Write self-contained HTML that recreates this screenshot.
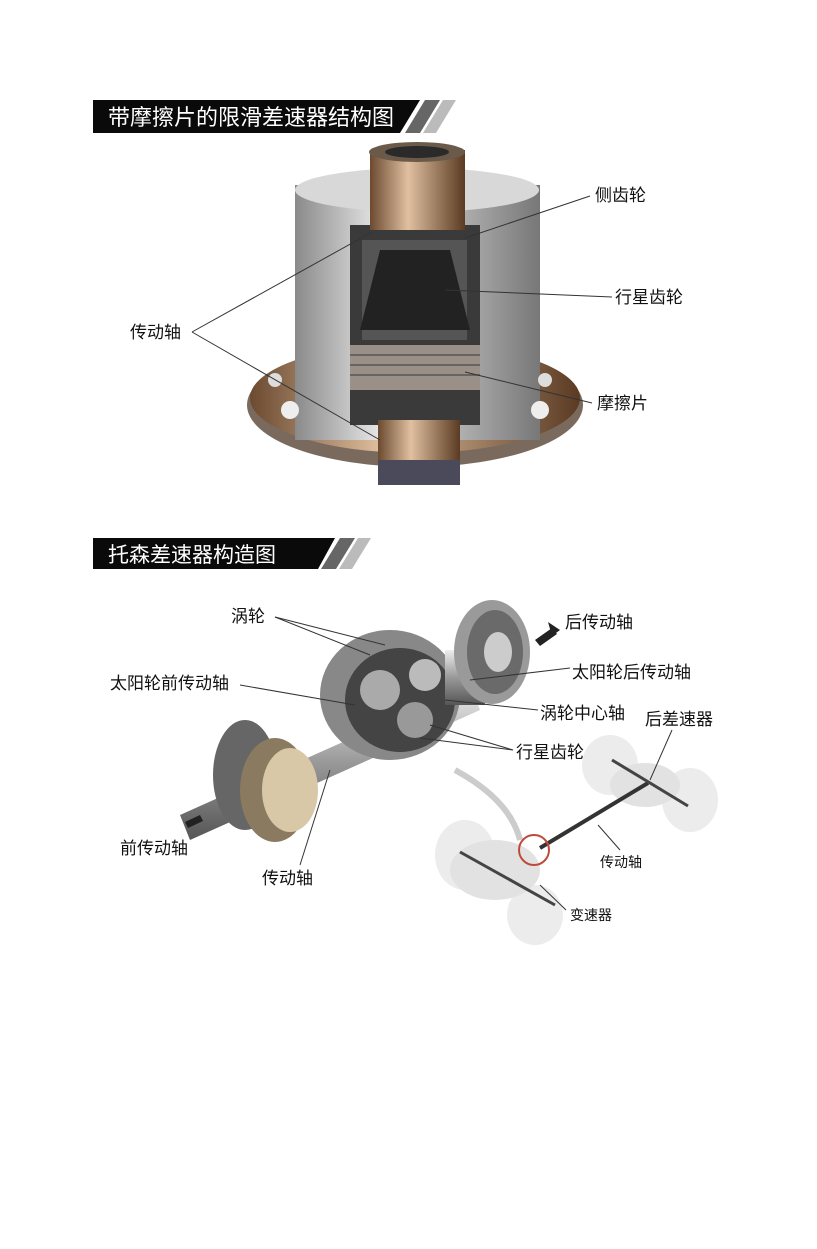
<!DOCTYPE html>
<html><head><meta charset="utf-8"><style>
html,body{margin:0;padding:0;background:#fff}
body{width:817px;height:1249px;overflow:hidden;position:relative}
svg{position:absolute;left:0;top:0}
text{font-family:"Liberation Sans","Noto Sans CJK SC",sans-serif}
</style></head><body>
<svg width="817" height="1249" viewBox="0 0 817 1249">
<defs>
<linearGradient id="st" x1="0" x2="1"><stop offset="0" stop-color="#222"/><stop offset="1" stop-color="#ddd"/></linearGradient>
<linearGradient id="br" x1="0" x2="1"><stop offset="0" stop-color="#6b4a30"/><stop offset=".4" stop-color="#e0c0a0"/><stop offset="1" stop-color="#5a3a22"/></linearGradient>
<linearGradient id="gr" x1="0" x2="1"><stop offset="0" stop-color="#8a8a8a"/><stop offset=".35" stop-color="#e8e8e8"/><stop offset="1" stop-color="#777"/></linearGradient>
<linearGradient id="sh" x1="0" y1="0" x2="0" y2="1"><stop offset="0" stop-color="#eee"/><stop offset=".5" stop-color="#999"/><stop offset="1" stop-color="#555"/></linearGradient>
</defs>
<!-- header 1 -->
<polygon points="93,100 420,100 400,133 93,133" fill="#0a0a0a"/>
<polygon points="425,100 440,100 420,133 405,133" fill="#666"/>
<polygon points="443,100 456,100 436,133 423,133" fill="#bbb"/>
<text x="108" y="125" font-size="22" fill="#fff">带摩擦片的限滑差速器结构图</text>
<!-- diff 1 -->
<ellipse cx="415" cy="405" rx="168" ry="62" fill="#7a6a5e"/>
<ellipse cx="415" cy="398" rx="165" ry="55" fill="url(#br)"/>
<rect x="295" y="185" width="245" height="255" fill="url(#gr)"/>
<ellipse cx="417" cy="190" rx="122" ry="22" fill="#d8d8d8"/>
<rect x="350" y="225" width="130" height="200" fill="#3a3a3a"/>
<rect x="362" y="240" width="105" height="100" fill="#555"/>
<polygon points="380,250 450,250 470,330 360,330" fill="#222"/>
<rect x="350" y="345" width="130" height="45" fill="#9a9088"/>
<g stroke="#555" stroke-width="1.5"><line x1="350" y1="355" x2="480" y2="355"/><line x1="350" y1="365" x2="480" y2="365"/><line x1="350" y1="375" x2="480" y2="375"/></g>
<rect x="370" y="150" width="95" height="80" fill="url(#br)"/>
<ellipse cx="417" cy="152" rx="48" ry="10" fill="#6b5a4a"/>
<ellipse cx="417" cy="152" rx="32" ry="6" fill="#2a2a2a"/>
<rect x="378" y="420" width="82" height="62" fill="url(#br)"/>
<rect x="378" y="460" width="82" height="25" fill="#4a4a5a"/>
<circle cx="540" cy="410" r="9" fill="#eee"/><circle cx="290" cy="410" r="9" fill="#eee"/><circle cx="545" cy="380" r="7" fill="#ddd"/><circle cx="275" cy="380" r="7" fill="#ddd"/>
<g stroke="#333" stroke-width="1" fill="none">
<line x1="590" y1="196" x2="465" y2="238"/>
<line x1="612" y1="297" x2="445" y2="290"/>
<line x1="592" y1="403" x2="465" y2="372"/>
<line x1="192" y1="332" x2="372" y2="232"/>
<line x1="192" y1="332" x2="380" y2="440"/>
</g>
<g font-size="17" fill="#111">
<text x="595" y="201">侧齿轮</text>
<text x="615" y="303">行星齿轮</text>
<text x="130" y="338">传动轴</text>
<text x="597" y="409">摩擦片</text>
</g>
<!-- header 2 -->
<polygon points="93,538 335,538 318,569 93,569" fill="#0a0a0a"/>
<polygon points="340,538 355,538 336,569 321,569" fill="#666"/>
<polygon points="358,538 371,538 352,569 339,569" fill="#bbb"/>
<text x="108" y="562" font-size="21" fill="#fff">托森差速器构造图</text>
<!-- car chassis faint -->
<g opacity=".55">
<ellipse cx="465" cy="855" rx="30" ry="35" fill="#ddd"/>
<ellipse cx="535" cy="915" rx="28" ry="30" fill="#ddd"/>
<ellipse cx="610" cy="765" rx="28" ry="30" fill="#ddd"/>
<ellipse cx="690" cy="800" rx="28" ry="32" fill="#ddd"/>
<ellipse cx="495" cy="870" rx="45" ry="30" fill="#ccc"/>
<ellipse cx="645" cy="785" rx="35" ry="22" fill="#ccc"/>
</g>
<path d="M455 770 Q510 800 520 840" stroke="#ccc" stroke-width="6" fill="none"/>
<line x1="540" y1="848" x2="648" y2="783" stroke="#333" stroke-width="4"/>
<line x1="460" y1="852" x2="555" y2="905" stroke="#444" stroke-width="3"/>
<line x1="612" y1="760" x2="688" y2="806" stroke="#444" stroke-width="3"/>
<circle cx="534" cy="850" r="15" fill="none" stroke="#c04a3a" stroke-width="2"/>
<!-- torsen -->
<polygon points="180,815 470,685 480,710 190,840" fill="url(#sh)"/>
<ellipse cx="245" cy="775" rx="32" ry="55" fill="#666"/>
<ellipse cx="275" cy="790" rx="35" ry="52" fill="#8a7a60"/>
<ellipse cx="290" cy="790" rx="28" ry="42" fill="#d8c8a8"/>
<ellipse cx="390" cy="695" rx="70" ry="65" fill="#888"/>
<ellipse cx="400" cy="700" rx="55" ry="52" fill="#444"/>
<circle cx="380" cy="690" r="20" fill="#aaa"/><circle cx="415" cy="720" r="18" fill="#999"/><circle cx="425" cy="675" r="16" fill="#bbb"/>
<rect x="445" y="650" width="40" height="55" fill="url(#sh)"/>
<ellipse cx="492" cy="652" rx="38" ry="52" fill="#9a9a9a"/>
<ellipse cx="495" cy="652" rx="28" ry="42" fill="#6a6a6a"/>
<ellipse cx="498" cy="652" rx="14" ry="20" fill="#ccc"/>
<polygon points="535,640 552,628 557,634 540,646" fill="#222"/>
<polygon points="548,622 560,630 552,636" fill="#222"/>
<polygon points="200,815 185,822 188,828 203,821" fill="#222"/>
<g stroke="#333" stroke-width="1" fill="none">
<line x1="275" y1="617" x2="370" y2="655"/><line x1="275" y1="617" x2="385" y2="645"/>
<line x1="240" y1="685" x2="355" y2="705"/>
<line x1="570" y1="668" x2="470" y2="680"/>
<line x1="538" y1="710" x2="445" y2="700"/>
<line x1="513" y1="750" x2="420" y2="738"/><line x1="513" y1="750" x2="430" y2="725"/>
<line x1="300" y1="865" x2="330" y2="770"/>
<line x1="672" y1="730" x2="650" y2="780"/>
<line x1="620" y1="850" x2="598" y2="825"/>
<line x1="566" y1="910" x2="540" y2="885"/>
</g>
<g font-size="17" fill="#111">
<text x="231" y="622">涡轮</text>
<text x="565" y="628">后传动轴</text>
<text x="572" y="678">太阳轮后传动轴</text>
<text x="110" y="689">太阳轮前传动轴</text>
<text x="540" y="719">涡轮中心轴</text>
<text x="645" y="725">后差速器</text>
<text x="516" y="758">行星齿轮</text>
<text x="120" y="854">前传动轴</text>
<text x="262" y="884">传动轴</text>
</g>
<g font-size="14" fill="#111">
<text x="600" y="867">传动轴</text>
<text x="570" y="920">变速器</text>
</g>
</svg>
</body></html>
